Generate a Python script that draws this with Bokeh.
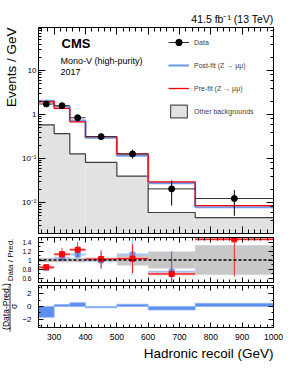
from math import nan, pi
from bokeh.plotting import figure
from bokeh.models import (Range1d, LinearAxis, LogAxis, Label, Span, Legend, LegendItem,
                          CustomJSTickFormatter, SingleIntervalTicker, LogTicker, Title)
from bokeh.layouts import column, row
from bokeh.embed import file_html
from bokeh.resources import INLINE

# ---------------- data ----------------
bin_edges = [250, 300, 350, 400, 500, 600, 750, 1000]
data_vals = [1.74, 1.59, 0.85, 0.316, 0.128, 0.0206, 0.01245]
data_err_lo = [0.12, 0.12, 0.12, 0.045, 0.027, 0.012, 0.0074]
data_err_hi = [0.12, 0.12, 0.14, 0.05, 0.032, 0.0114, 0.0069]
postfit_vals = [2.06, 1.53, 0.73, 0.30, 0.117, 0.0278, 0.00788]
prefit_vals = [1.96, 1.38, 0.685, 0.316, 0.128, 0.0298, 0.00863]
other_bkg_vals = [0.585, 0.37, 0.128, 0.082, 0.040, 0.0060, 0.0046]

ratio_prefit = [0.84, 1.13, 1.23, 1.02, 1.03, 0.69, 1.46]
ratio_prefit_err = [0.06, 0.14, 0.17, 0.20, 0.32, 0.50, 0.83]
ratio_postfit = [0.82, 1.05, 1.12, 0.99, 1.12, 0.74, nan]
ratio_postfit_err = [0.05, 0.09, 0.16, 0.20, 0.46, 0.44, nan]
postfit_unc = [0.05, 0.05, 0.05, 0.04, 0.12, 0.19, 0.33]
pulls = [-1.7, 0.3, 0.6, -0.2, 0.35, -0.55, 0.5]

FONT = "Liberation Sans"
BLUE = "#6f9cf0"
BLUE_LIGHT = "#a8c4f6"
RED = "#ff0000"
PINK = "#ff9e9e"

lefts = bin_edges[:-1]
rights = bin_edges[1:]
centers = [(a + b) / 2 for a, b in zip(lefts, rights)]

STRIP_W = 18
W = 283 - STRIP_W
H_TOP, H_RATIO, H_PULL = 234, 49, 80
H_ALL = H_TOP + H_RATIO + H_PULL
x_range = Range1d(250, 1000)

SUP_JS = """
const e = Math.round(Math.log10(tick));
if (e === 0) return "1";
if (e === 1) return "10";
const sup = {"-":"\\u207B","0":"\\u2070","1":"\\u00B9","2":"\\u00B2","3":"\\u00B3","4":"\\u2074","5":"\\u2075","6":"\\u2076","7":"\\u2077","8":"\\u2078","9":"\\u2079"};
return "10" + String(e).split("").map(c => sup[c]).join("");
"""
EMPTY_JS = "return '';"


def style_axis(ax, major, minor, size, labels=True, standoff=2):
    ax.major_tick_in = major
    ax.major_tick_out = 0
    ax.minor_tick_in = minor
    ax.minor_tick_out = 0
    ax.axis_line_color = "black"
    ax.major_tick_line_color = "black"
    ax.minor_tick_line_color = "black"
    ax.major_label_text_font = FONT
    ax.major_label_text_color = "black"
    if labels:
        ax.major_label_text_font_size = size
        ax.major_label_standoff = standoff
    else:
        ax.formatter = CustomJSTickFormatter(code=EMPTY_JS)
        ax.major_label_text_font_size = "1px"
        ax.major_label_standoff = 0


def base_fig(height, y_range, top, bottom, log=False):
    f = figure(width=W, height=height, x_range=x_range, y_range=y_range,
               y_axis_type="log" if log else "linear",
               output_backend="svg", toolbar_location=None,
               min_border_left=35 - STRIP_W, min_border_right=10,
               min_border_top=top, min_border_bottom=bottom)
    f.outline_line_color = "black"
    f.grid.visible = False
    f.background_fill_color = "white"
    f.border_fill_color = "white"
    return f


def lab(fig, text, x, y, size, align="left", baseline="middle", angle=0.0, bold=False,
        units="screen"):
    fig.add_layout(Label(x=x, y=y, x_units=units, y_units=units, text=text,
                         text_font=FONT, text_font_size=size, text_align=align,
                         text_baseline=baseline, angle=angle, text_color="black",
                         text_font_style="bold" if bold else "normal"))


x_ticker = SingleIntervalTicker(interval=100, num_minor_ticks=5)

# ---------------- main panel ----------------
p = base_fig(H_TOP, Range1d(0.002, 95), 27, 1, log=True)
p.xaxis.ticker = x_ticker
style_axis(p.xaxis[0], 7, 4, None, labels=False)
p.yaxis.formatter = CustomJSTickFormatter(code=SUP_JS)
style_axis(p.yaxis[0], 7, 3, "8px")
ra = LogAxis(ticker=LogTicker())
style_axis(ra, 7, 3, None, labels=False)
p.add_layout(ra, "right")
ta = LinearAxis(ticker=x_ticker)
style_axis(ta, 7, 4, None, labels=False)
p.add_layout(ta, "above")
p.title = Title(text="41.5 fb\u207b\u00b9 (13 TeV)", align="right",
                text_font=FONT, text_font_size="10.5px", text_font_style="normal",
                text_color="black", standoff=6)

ymin = p.y_range.start
p.quad(left=lefts, right=rights, bottom=ymin, top=other_bkg_vals,
       fill_color="#e2e2e2", line_color=None)
p.step(bin_edges, other_bkg_vals + other_bkg_vals[-1:], mode="after",
       line_color="#3c3c3c", line_width=1.2)
r_post = p.step(bin_edges, postfit_vals + postfit_vals[-1:], mode="after",
                line_color=BLUE, line_width=2.1)
r_pre = p.step(bin_edges, prefit_vals + prefit_vals[-1:], mode="after",
               line_color=RED, line_width=1.3)

d_lo = [v - e for v, e in zip(data_vals, data_err_lo)]
d_hi = [v + e for v, e in zip(data_vals, data_err_hi)]
r_dx = p.segment(x0=lefts, y0=data_vals, x1=rights, y1=data_vals,
                 line_color="#333333", line_width=1)
p.segment(x0=centers, y0=d_lo, x1=centers, y1=d_hi, line_color="black", line_width=1)
r_data = p.scatter(centers, data_vals, size=6, marker="circle",
                   fill_color="black", line_color="black")

# legend-only proxy (placed outside the visible x range)
proxy = p.quad(left=[1100], right=[1200], bottom=[1], top=[2], fill_color="#e2e2e2",
               line_color="#555555", line_width=1.2)

legend = Legend(items=[
    LegendItem(label="Data", renderers=[r_dx, r_data]),
    LegendItem(label="Post-fit (Z \u2192 \u03bc\u03bc)", renderers=[r_post]),
    LegendItem(label="Pre-fit (Z \u2192 \u03bc\u03bc)", renderers=[r_pre]),
    LegendItem(label="Other backgrounds", renderers=[proxy]),
], location=(130, 114), padding=0, margin=0, spacing=7, glyph_width=21,
    glyph_height=16, label_standoff=5, label_text_font=FONT,
    label_text_font_size="7px", border_line_color=None, background_fill_alpha=0)
p.add_layout(legend)

lab(p, "CMS", 23, 190, "13px", bold=True)
lab(p, "Mono-V (high-purity)", 22, 173, "9px")
lab(p, "2017", 22, 162, "9px")

# ---------------- ratio panel ----------------
r = base_fig(H_RATIO, Range1d(0.5, 1.5), 3, 1)
r.xaxis.ticker = x_ticker
style_axis(r.xaxis[0], 5, 3, None, labels=False)
r_yticker = SingleIntervalTicker(interval=0.2, num_minor_ticks=2)
r.yaxis.ticker = r_yticker
r.yaxis.formatter = CustomJSTickFormatter(code="return String(Math.round(tick*10)/10);")
style_axis(r.yaxis[0], 5, 2, "6.5px", standoff=7)
ra2 = LinearAxis(ticker=r_yticker)
style_axis(ra2, 5, 2, None, labels=False)
r.add_layout(ra2, "right")
ta2 = LinearAxis(ticker=x_ticker)
style_axis(ta2, 5, 3, None, labels=False)
r.add_layout(ta2, "above")

r.quad(left=lefts, right=rights,
       bottom=[1 - u for u in postfit_unc], top=[1 + u for u in postfit_unc],
       fill_color="#c8c8c8", line_color=None)
r.add_layout(Span(location=1, dimension="width", line_color="black",
                  line_dash="3 2", line_width=1.3))

# post-fit (blue); the last bin lies above the shown range and is not drawn
nb = len(ratio_postfit) - 1
r.segment(x0=lefts[:nb], y0=ratio_postfit[:nb], x1=rights[:nb], y1=ratio_postfit[:nb],
          line_color=BLUE_LIGHT, line_width=2)
r.segment(x0=centers[:nb],
          y0=[v - e for v, e in zip(ratio_postfit[:nb], ratio_postfit_err[:nb])],
          x1=centers[:nb],
          y1=[v + e for v, e in zip(ratio_postfit[:nb], ratio_postfit_err[:nb])],
          line_color=BLUE_LIGHT, line_width=1.5)
r.scatter(centers[:nb], ratio_postfit[:nb], marker="square", size=5,
          fill_color=BLUE, line_color=BLUE)
# pre-fit (red)
r.segment(x0=lefts, y0=ratio_prefit, x1=rights, y1=ratio_prefit,
          line_color=PINK, line_width=2.5)
r.segment(x0=lefts, y0=ratio_prefit, x1=rights, y1=ratio_prefit,
          line_color=RED, line_width=1)
r.segment(x0=centers, y0=[v - e for v, e in zip(ratio_prefit, ratio_prefit_err)],
          x1=centers, y1=[v + e for v, e in zip(ratio_prefit, ratio_prefit_err)],
          line_color=RED, line_width=1, line_alpha=0.8)
r.scatter(centers, ratio_prefit, marker="square", size=5, fill_color=RED, line_color=RED)

# ---------------- pull panel ----------------
q = base_fig(H_PULL, Range1d(-3.3, 3.3), 2, 36)
q.xaxis.ticker = x_ticker
style_axis(q.xaxis[0], 5, 3, "8.5px", standoff=6)
q_yticker = SingleIntervalTicker(interval=2, num_minor_ticks=2)
q.yaxis.ticker = q_yticker
q.yaxis.formatter = CustomJSTickFormatter(code="return tick < 0 ? '\\u2212' + String(-tick) : String(tick);")
style_axis(q.yaxis[0], 5, 2, "8px", standoff=7)
ra3 = LinearAxis(ticker=q_yticker)
style_axis(ra3, 5, 2, None, labels=False)
q.add_layout(ra3, "right")
ta3 = LinearAxis(ticker=x_ticker)
style_axis(ta3, 5, 3, None, labels=False)
q.add_layout(ta3, "above")

q.quad(left=lefts, right=rights,
       bottom=[min(0, v) for v in pulls], top=[max(0, v) for v in pulls],
       fill_color="#5b8ff0", line_color="#8fb2f5", line_width=0.8)

q.add_layout(Title(text="Hadronic recoil (GeV)", align="right", text_font=FONT,
                   text_font_size="13.5px", text_font_style="normal",
                   text_color="black", standoff=2), "below")

# ---------------- left strip with the y-axis titles ----------------
s = figure(width=STRIP_W, height=H_ALL, x_range=Range1d(0, STRIP_W),
           y_range=Range1d(0, H_ALL), output_backend="svg", toolbar_location=None,
           x_axis_location=None, y_axis_location=None, min_border=0)
s.outline_line_color = None
s.grid.visible = False
s.border_fill_color = "white"
s.background_fill_color = "white"
lab(s, "Events / GeV", 10.5, H_ALL - 27, "13.5px", align="right", angle=pi / 2, units="data")
lab(s, "Data / Pred.", 10, H_ALL - 259.5, "8px", align="center", angle=pi / 2, units="data")
lab(s, "(Data-Pred.)", 5, H_ALL - 306, "8.5px", align="center", angle=pi / 2, units="data")
s.line(x=[9.5, 9.5], y=[H_ALL - 283, H_ALL - 331], line_color="black", line_width=0.8)
lab(s, "\u03c3", 13, H_ALL - 306, "8.5px", align="center", angle=pi / 2, units="data")

layout = row(s, column(p, r, q, spacing=0), spacing=0)
open("out.html", "w").write(file_html(layout, INLINE))
